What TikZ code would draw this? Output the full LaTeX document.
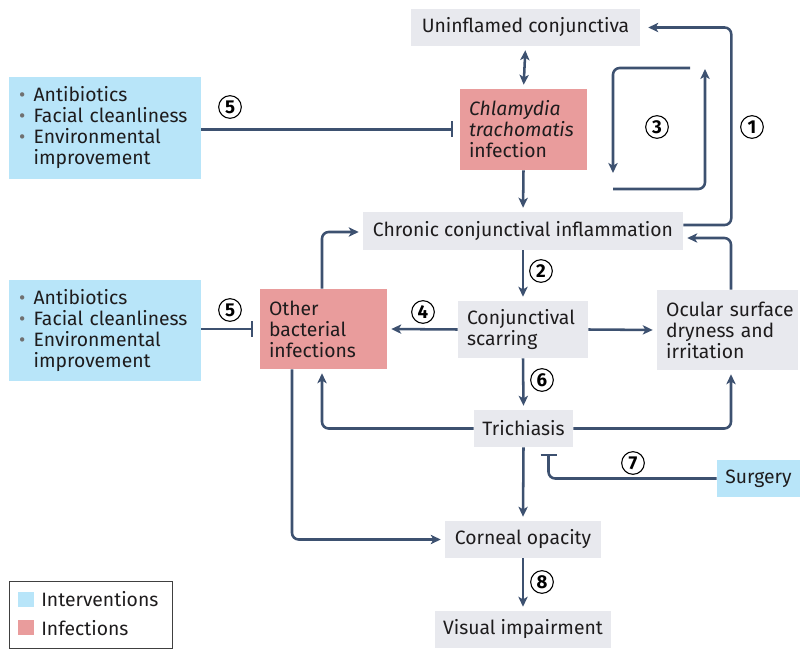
\documentclass[tikz,border=0pt]{standalone}
\usepackage{fontspec}
\setmainfont{Fira Sans}
\usetikzlibrary{arrows.meta,calc}
\definecolor{gbox}{HTML}{E8E9EE}
\definecolor{bbox}{HTML}{B8E5F9}
\definecolor{pbox}{HTML}{E99C9C}
\definecolor{ac}{HTML}{3D5170}
\definecolor{txt}{HTML}{1E1C1D}
\definecolor{bul}{HTML}{707070}
\newcommand\bitem{\makebox[11pt][l]{\textcolor{bul}{•}}}
\newcommand\bcont{\hspace*{11pt}}
\tikzset{
  box/.style={rectangle, inner sep=0pt, text=txt},
  gb/.style={box, fill=gbox},
  bb/.style={box, fill=bbox},
  pb/.style={box, fill=pbox},
  tip/.tip={Stealth[length=7.5pt,width=7pt,inset=2pt]},
  arr/.style={draw=ac, line width=1.9pt, -tip, shorten >=3pt, rounded corners=5pt},
  darr/.style={draw=ac, line width=1.9pt, tip-tip, shorten >=3pt, shorten <=3pt},
  tee/.style={draw=ac, line width=1.9pt, -{Bar[width=12pt,line width=1.9pt]}, shorten >=5pt, rounded corners=5pt},
  num/.style={circle, draw=black, line width=0.8pt, inner sep=0pt, minimum size=17pt, font=\fontsize{14}{14}\selectfont\bfseries},
}
\begin{document}
\begin{tikzpicture}[x=0.75pt,y=-0.75pt, font=\fontsize{14.5}{15.75}\selectfont]
\useasboundingbox (0,0) rectangle (800,649);
% boxes
\node[gb, minimum width=171.75pt, minimum height=27.75pt] (unin) at (525.5,27.5) {Uninflamed conjunctiva};
\node[pb, minimum width=95.25pt, minimum height=60.75pt, text width=81.75pt, align=left] (chlam) at (523.5,129.5) {\textit{Chlamydia}\\\textit{trachomatis}\\infection};
\node[gb, minimum width=240pt, minimum height=28.5pt] (chronic) at (523,231) {Chronic conjunctival inflammation};
\node[gb, minimum width=97.5pt, minimum height=42.75pt, text width=84pt, align=left] (scar) at (523,329.5) {Conjunctival\\scarring};
\node[gb, minimum width=105.75pt, minimum height=60pt, text width=92pt, align=left] (ocular) at (727.5,330) {\mbox{Ocular surface}\\dryness and\\irritation};
\node[pb, minimum width=95.25pt, minimum height=60pt, text width=81.75pt, align=left] (other) at (323.5,329) {Other\\bacterial\\infections};
\node[gb, minimum width=74.25pt, minimum height=27.75pt] (trich) at (523.5,428.5) {Trichiasis};
\node[gb, minimum width=117pt, minimum height=27.75pt] (corneal) at (523,539.5) {Corneal opacity};
\node[gb, minimum width=132pt, minimum height=27.75pt] (visual) at (523,629.5) {Visual impairment};
\node[bb, minimum width=62.25pt, minimum height=27.75pt] (surgery) at (758.5,478.5) {Surgery};
\node[bb, minimum width=144pt, minimum height=76.5pt, text width=129pt, align=left] (int1) at (105,128) {\bitem Antibiotics\\\bitem Facial cleanliness\\\bitem Environmental\\\bcont improvement};
\node[bb, minimum width=144pt, minimum height=75.75pt, text width=129pt, align=left] (int2) at (105,330.5) {\bitem Antibiotics\\\bitem Facial cleanliness\\\bitem Environmental\\\bcont improvement};
% legend
\node[box, draw=black!75, line width=0.6pt, minimum width=122.25pt, minimum height=50.25pt] (leg) at (90.5,614.5) {};
\node[box, fill=bbox, minimum width=12pt, minimum height=11.25pt] (sw1) at (25.5,599.5) {};
\node[box, fill=pbox, minimum width=12pt, minimum height=11.25pt] (sw2) at (25.5,627.5) {};
\node[box, anchor=west] (lt1) at (41,599) {Interventions};
\node[box, anchor=west] (lt2) at (41,628) {Infections};
% connectors
\draw[darr] (unin.south) -- (chlam.north);
\draw[arr] (chlam.south) -- (chronic.north);
\draw[arr, shorten >=6pt] ($(chronic.east)+(0,-6)$) -| ($(unin.east)+(91,0)$) -- (unin.east);
\draw[arr] ($(ocular.north)+(3.5,0)$) |- ($(chronic.east)+(0,7)$);
\coordinate (l3a) at (690,68);
\coordinate (l3b) at (613,173);
\coordinate (l3c) at (613,189);
\coordinate (l3d) at (705,69);
\draw[arr, shorten >=0pt] (l3a) -| (l3b);
\draw[arr, shorten >=0pt] (l3c) -| (l3d);
\draw[arr] (chronic.south) -- (scar.north);
\draw[arr] (scar.west) -- (other.east);
\draw[arr] (scar.east) -- (ocular.west);
\draw[arr] (scar.south) -- (trich.north);
\draw[arr] (trich.west) -| ($(other.south)+(-1.5,0)$);
\draw[arr] (trich.east) -| ($(ocular.south)+(3.5,0)$);
\draw[arr] ($(other.north)+(-1.5,0)$) |- ($(chronic.west)+(0,1)$);
\draw[arr] ($(other.south)+(-31.5,0)$) |- (corneal.west);
\draw[arr] (trich.south) -- (corneal.north);
\draw[arr] (corneal.south) -- (visual.north);
\draw[tee] (surgery.west) -| ($(trich.south)+(25,0)$);
\draw[tee] (int1.east |- chlam.west) -- (chlam.west);
\draw[tee] (int2.east |- other.west) -- (other.west);
% numbers
\node[num] (n1) at (752,127) {1};
\node[num] (n2) at (541,271) {2};
\node[num] (n3) at (657,127) {3};
\node[num] (n4) at (423,312) {4};
\node[num] (n5a) at (230,107) {5};
\node[num] (n5b) at (230,310) {5};
\node[num] (n6) at (542,380) {6};
\node[num] (n7) at (633,463) {7};
\node[num] (n8) at (542,582) {8};
\end{tikzpicture}
\end{document}
